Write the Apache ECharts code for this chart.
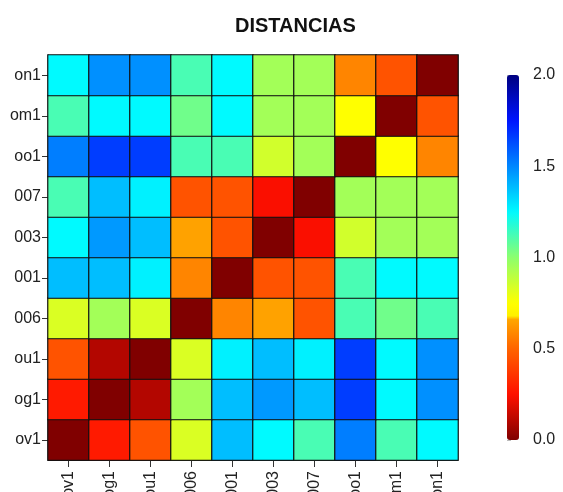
<!DOCTYPE html>
<html><head><meta charset="utf-8">
<script src="https://cdn.jsdelivr.net/npm/echarts@6/dist/echarts.min.js"></script>
<style>html,body{margin:0;padding:0;background:#fff}#c{width:563px;height:492px}</style>
</head><body><div id="c"></div>
<script>
// categories (x: left to right, y: bottom to top)
const colLabels = ['ov1','og1','ou1','006','001','003','007','oo1','om1','on1'];
const rowLabels = ['ov1','og1','ou1','006','001','003','007','oo1','om1','on1'];
// distance values per row (columns ov1..on1)
const row_on1 = [1.25,1.48,1.48,1.12,1.25,0.95,0.95,0.58,0.45,0.00];
const row_om1 = [1.12,1.25,1.25,1.05,1.25,0.95,0.95,0.75,0.00,0.45];
const row_oo1 = [1.52,1.66,1.66,1.12,1.12,0.85,0.95,0.00,0.75,0.58];
const row_007 = [1.12,1.38,1.27,0.45,0.45,0.24,0.00,0.95,0.95,0.95];
const row_003 = [1.25,1.46,1.38,0.65,0.45,0.00,0.24,0.85,0.95,0.95];
const row_001 = [1.38,1.38,1.27,0.58,0.00,0.45,0.45,1.12,1.25,1.25];
const row_006 = [0.83,0.95,0.83,0.00,0.58,0.65,0.45,1.12,1.05,1.12];
const row_ou1 = [0.45,0.10,0.00,0.83,1.27,1.38,1.27,1.66,1.25,1.48];
const row_og1 = [0.28,0.00,0.10,0.95,1.38,1.46,1.38,1.66,1.25,1.48];
const row_ov1 = [0.00,0.28,0.45,0.83,1.38,1.25,1.12,1.52,1.12,1.25];
const scaleTicks = ['0.0','0.5','1.0','1.5','2.0'];

const rowsByLabel = {on1:row_on1, om1:row_om1, oo1:row_oo1, '007':row_007, '003':row_003,
  '001':row_001, '006':row_006, ou1:row_ou1, og1:row_og1, ov1:row_ov1};
const data = [];
rowLabels.forEach((r, yi) => {
  rowsByLabel[r].forEach((v, xi) => data.push([xi, yi, v]));
});

// colour scale stops (style)
const stops = [[0,[128,0,0]],[0.25,[255,16,0]],[0.5,[255,100,0]],[0.67,[255,170,0]],
  [0.68,[255,240,0]],[0.75,[255,255,0]],[1.0,[140,255,110]],[1.25,[0,250,255]],
  [1.5,[0,135,255]],[1.75,[0,20,255]],[2.0,[0,0,128]]];
function colAt(v){
  for (let i=1;i<stops.length;i++){
    if (v<=stops[i][0]){
      const a=stops[i-1], b=stops[i], t=(v-a[0])/(b[0]-a[0]);
      const c=a[1].map((x,k)=>Math.round(x+(b[1][k]-x)*t));
      return 'rgb('+c.join(',')+')';
    }
  }
  return 'rgb(0,0,128)';
}
const palette = [];
for (let i=0;i<=200;i++) palette.push(colAt(i/100));

const font = 'Liberation Sans, Arial, sans-serif';
const chart = echarts.init(document.getElementById('c'));
chart.setOption({
  backgroundColor:'#fff',
  animation:false,
  title:{text:'DISTANCIAS', left:230, top:11,
    textStyle:{fontFamily:font, fontWeight:'bold', fontSize:20, color:'#111'}},
  grid:[
    {left:48, top:55, width:410, height:405, containLabel:false, outerBoundsMode:'none'},
    {left:507, top:75, width:12, height:365, show:false, containLabel:false, outerBoundsMode:'none'}
  ],
  xAxis:[
    {type:'category', data:colLabels, gridIndex:0,
      axisLine:{show:true, lineStyle:{color:'#111'}},
      axisTick:{show:true, alignWithLabel:true, length:7, lineStyle:{color:'#333'}},
      axisLabel:{rotate:90, margin:11, fontSize:16, color:'#222', fontFamily:font},
      splitLine:{show:false}},
    {type:'value', gridIndex:1, show:false, min:0, max:1}
  ],
  yAxis:[
    {type:'category', data:rowLabels, gridIndex:0,
      axisLine:{show:true, lineStyle:{color:'#111'}},
      axisTick:{show:true, alignWithLabel:true, length:6, lineStyle:{color:'#333'}},
      axisLabel:{margin:7, fontSize:16, color:'#222', fontFamily:font},
      splitLine:{show:false}},
    {type:'value', gridIndex:1, min:0, max:2, interval:0.5, position:'right',
      axisLine:{show:false},
      axisTick:{show:true, length:4, inside:false, lineStyle:{color:'#bbb'}},
      axisLabel:{margin:14, fontSize:16, color:'#222', fontFamily:font,
        formatter:(v)=>scaleTicks[Math.round(v/0.5)]},
      splitLine:{show:false}}
  ],
  visualMap:{type:'continuous', min:0, max:2, seriesIndex:0, left:507, top:75,
    itemWidth:12, itemHeight:365, padding:0, text:['',''], calculable:false,
    hoverLink:false, inRange:{color:palette}},
  series:[{type:'heatmap', xAxisIndex:0, yAxisIndex:0, data:data,
    itemStyle:{borderColor:'#111', borderWidth:1.2},
    emphasis:{disabled:true}}]
});
</script></body></html>
